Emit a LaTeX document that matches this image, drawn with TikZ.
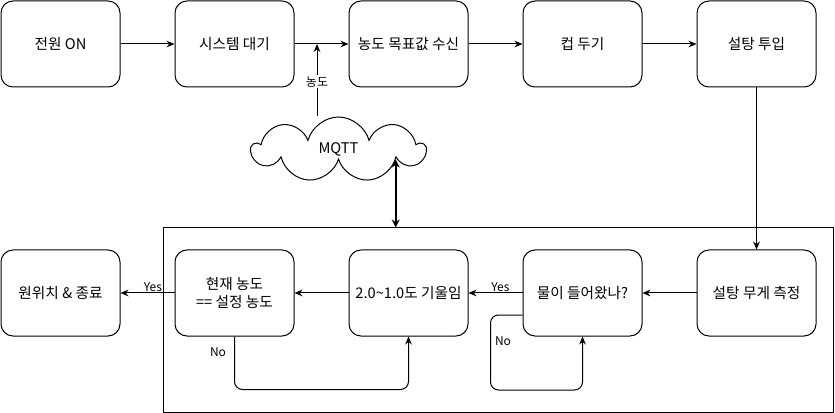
\documentclass[tikz,border=0pt]{standalone}
\usepackage{fontspec}
\setsansfont{Noto Sans CJK KR}
\usetikzlibrary{arrows.meta, positioning, calc, fit, shapes.symbols}

\begin{document}
\begin{tikzpicture}[
        x=0.75pt, y=-0.75pt,
        font=\sffamily\fontsize{11pt}{13.5pt}\selectfont,
        node distance=121.5pt and 40.5pt,
        box/.style={draw, rounded corners=9pt, align=center, minimum width=89.25pt, minimum height=64.5pt, line width=0.75pt},
        frame/.style={draw, line width=0.75pt, inner sep=0pt},
        cloudnode/.style={cloud, draw, cloud puffs=9, cloud ignores aspect, minimum width=129.75pt, minimum height=48.75pt, line width=0.75pt},
        arr/.style={-{Stealth[length=6pt, width=5pt]}, line width=0.75pt},
        dblarr/.style={{Stealth[length=6pt, width=6pt]}-{Stealth[length=6pt, width=6pt]}, line width=1.5pt},
        lbl/.style={font=\sffamily\fontsize{9pt}{11pt}\selectfont, inner sep=1pt}
    ]
        \useasboundingbox (0,0) rectangle (835,413);

        % top row
        \node[box] (on) at (60.5,44) {전원 ON};
        \node[box, right=of on] (wait) {시스템 대기};
        \node[box, right=of wait] (recv) {농도 목표값 수신};
        \node[box, right=of recv] (cup) {컵 두기};
        \node[box, right=of cup] (sugar) {설탕 투입};

        % bottom row
        \node[box, below=of on] (reset) {원위치 \& 종료};
        \node[box, below=of wait] (cur) {현재 농도\\== 설정 농도};
        \node[box, below=of recv] (tilt) {2.0\textasciitilde1.0도 기울임};
        \node[box, below=of cup] (water) {물이 들어왔나?};
        \node[box, below=of sugar] (meas) {설탕 무게 측정};

        % group frame + cloud
        \coordinate (fnw) at (163,228);
        \coordinate (fse) at (833,412);
        \node[frame, fit=(fnw)(fse)] (group) {};
        \node[cloudnode] (mqtt) at (338.5,149.5) {MQTT};
        \coordinate (tap) at (317,44);

        \draw[arr] (on) -- (wait);
        \draw[arr] (wait) -- (recv);
        \draw[arr] (recv) -- (cup);
        \draw[arr] (cup) -- (sugar);
        \draw[arr] (tap |- mqtt.north) -- node[lbl, fill=white, pos=0.48]{농도} (tap);
        \draw[dblarr] (mqtt.-10) -- (mqtt.-10 |- group.north);
        \draw[arr] (sugar) -- (meas);
        \draw[arr] (meas) -- (water);
        \draw[arr] (water) -- node[lbl, above, pos=0.41]{Yes} (tilt);
        \draw[arr] (tilt) -- (cur);
        \draw[arr] (cur) -- node[lbl, above, pos=0.4]{Yes} (reset);
        \draw[arr, rounded corners=6pt] (cur.south) -- node[lbl, left=5pt, pos=0.3]{No} ++(0,53) -| (tilt.south);
        \draw[arr, rounded corners=6pt] ($(water.west)+(0,22)$) -- ++(-32,0) -- node[lbl, right=2pt, pos=0.35]{No} ++(0,75) -| (water.south);
    \end{tikzpicture}
\end{document}
